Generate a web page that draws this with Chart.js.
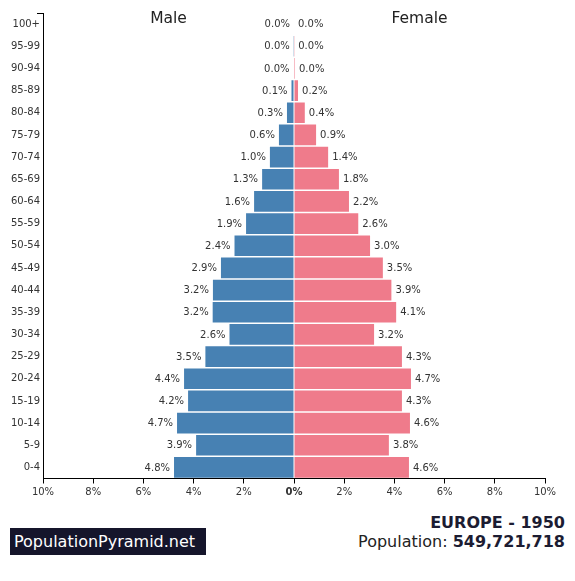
<!DOCTYPE html>
<html>
<head>
<meta charset="utf-8">
<script src="https://cdn.jsdelivr.net/npm/chart.js@4.4.1/dist/chart.umd.min.js"></script>
<style>
  body { margin: 0; background: #fff; font-family: "DejaVu Sans", sans-serif; }
  #wrap { position: relative; width: 575px; height: 581px; }
  #pyramid { position: absolute; left: 0; top: 0; }
  .brand { position: absolute; left: 10px; top: 528px; width: 196px; height: 27px;
           background: #15152b; color: #fff; font-size: 16px; line-height: 27px;
           padding-left: 4px; box-sizing: border-box; }
  .title { position: absolute; right: 10px; top: 513px; text-align: right;
           font-size: 16px; line-height: 19px; color: #222; }
  .title b { color: #1c1c32; }
</style>
</head>
<body>
<div id="wrap">
  <canvas id="pyramid" width="575" height="500"></canvas>
  <div class="brand">PopulationPyramid.net</div>
  <div class="title"><b>EUROPE - 1950</b><br>Population: <b>549,721,718</b></div>
</div>
<script>
const ageGroups = ['100+', '95-99', '90-94', '85-89', '80-84', '75-79', '70-74', '65-69', '60-64', '55-59',
  '50-54', '45-49', '40-44', '35-39', '30-34', '25-29', '20-24', '15-19', '10-14', '5-9', '0-4'];
// percent of total population, top row first
const malePct = [0.0, 0.01, 0.02, 0.1, 0.28, 0.6, 0.96, 1.27, 1.59, 1.91,
  2.37, 2.91, 3.23, 3.24, 2.57, 3.53, 4.38, 4.22, 4.66, 3.9, 4.78];
const femalePct = [0.0, 0.01, 0.04, 0.16, 0.43, 0.88, 1.36, 1.79, 2.19, 2.56,
  3.03, 3.54, 3.88, 4.07, 3.19, 4.3, 4.66, 4.3, 4.62, 3.78, 4.58];
const xTicks = [-10, -8, -6, -4, -2, 0, 2, 4, 6, 8, 10];

const labelFont = '10px "DejaVu Sans"';

// value labels next to bar ends + side headings + the little outer axis tick
const pyramidLabels = {
  id: 'pyramidLabels',
  afterDatasetsDraw(chart) {
    const ctx = chart.ctx;
    const area = chart.chartArea;
    ctx.save();
    ctx.font = labelFont;
    ctx.fillStyle = '#333';
    ctx.textBaseline = 'middle';
    chart.data.datasets.forEach((ds, i) => {
      const meta = chart.getDatasetMeta(i);
      const vals = i === 0 ? malePct : femalePct;
      meta.data.forEach((bar, j) => {
        const txt = vals[j].toFixed(1) + '%';
        if (i === 0) {
          ctx.textAlign = 'right';
          ctx.fillText(txt, bar.x - 4, bar.y + 0.5);
        } else {
          ctx.textAlign = 'left';
          ctx.fillText(txt, bar.x + 4, bar.y + 0.5);
        }
      });
    });
    const xs = chart.scales.x;
    const mid = xs.getPixelForValue(0);
    ctx.font = '15.5px "DejaVu Sans"';
    ctx.fillStyle = '#222';
    ctx.textAlign = 'center';
    ctx.fillText('Male', (area.left + mid) / 2, area.top + 6);
    ctx.fillText('Female', (area.right + mid) / 2, area.top + 6);

    ctx.strokeStyle = '#000';
    ctx.lineWidth = 1;
    ctx.beginPath();
    ctx.moveTo(area.left - 6, Math.round(area.top) + 0.5);
    ctx.lineTo(area.left, Math.round(area.top) + 0.5);
    ctx.stroke();
    ctx.restore();
  }
};

new Chart(document.getElementById('pyramid'), {
  type: 'bar',
  data: {
    labels: ageGroups,
    datasets: [
      {
        label: 'Male',
        data: malePct.map(v => -v),
        backgroundColor: '#4781b3',
        barPercentage: 0.93,
        categoryPercentage: 1
      },
      {
        label: 'Female',
        data: femalePct,
        backgroundColor: '#ef7b8b',
        barPercentage: 0.93,
        categoryPercentage: 1
      }
    ]
  },
  options: {
    indexAxis: 'y',
    responsive: false,
    animation: false,
    layout: { padding: { top: 13, right: 30, left: 0, bottom: 0 } },
    plugins: { legend: { display: false }, tooltip: { enabled: false } },
    scales: {
      y: {
        stacked: true,
        grid: { display: false, drawTicks: false },
        border: { display: true, color: '#000', width: 1 },
        ticks: { font: { family: 'DejaVu Sans', size: 10 }, color: '#333', padding: 3 },
        afterFit: s => { s.width = 43; }
      },
      x: {
        stacked: true,
        min: -10,
        max: 10,
        afterBuildTicks: s => { s.ticks = xTicks.map(v => ({ value: v })); },
        grid: { drawOnChartArea: false, drawTicks: true, tickLength: 5, color: '#000' },
        border: { display: true, color: '#000', width: 1 },
        ticks: {
          font: ctx => ({ family: 'DejaVu Sans', size: 10, weight: ctx.tick && ctx.tick.value === 0 ? 'bold' : 'normal' }),
          color: '#333',
          padding: 3,
          maxRotation: 0,
          callback: v => Math.abs(v) + '%'
        },
        afterFit: s => { s.height = 21.5; }
      }
    }
  },
  plugins: [pyramidLabels]
});
</script>
</body>
</html>
